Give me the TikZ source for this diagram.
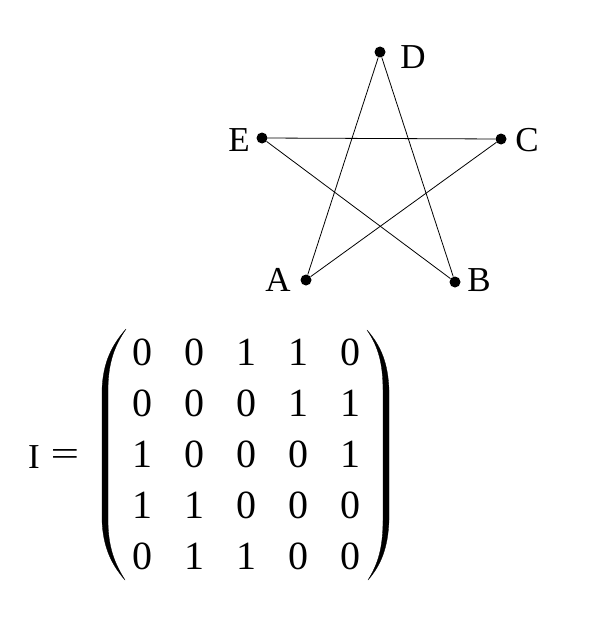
\documentclass[tikz,border=0pt]{standalone}
\usepackage{fontspec}
\usepackage{graphicx}
\setmainfont{Liberation Serif}
\begin{document}
\begin{tikzpicture}[x=1pt,y=-1pt,
  vtx/.style={circle,fill=black,inner sep=0pt,minimum size=11pt},
  lbl/.style={inner sep=0pt,font=\fontsize{35}{40}\selectfont},
  entry/.style={inner sep=0pt,font=\fontsize{40}{46}\selectfont},
  edge/.style={line width=0.8pt},
  paren/.style={fill=black,draw=black,line width=0.3pt}]
\useasboundingbox[fill=white] (0,0) rectangle (598,618);
% vertices
\node[vtx] (D) at (380,52) {};
\node[vtx] (E) at (262,138) {};
\node[vtx] (C) at (501,139) {};
\node[vtx] (A) at (306,280) {};
\node[vtx] (B) at (455,282) {};
% labels
\node[lbl] (lD) at (413,57) {D};
\node[lbl] (lE) at (239,140) {E};
\node[lbl] (lC) at (527,140) {C};
\node[lbl] (lA) at (278,280) {A};
\node[lbl] (lB) at (479,280) {B};
% edges
\draw[edge] (D) -- (A);
\draw[edge] (D) -- (B);
\draw[edge] (E) -- (C);
\draw[edge] (E) -- (B);
\draw[edge] (A) -- (C);
% I =
\node[lbl] (I) at (34,457) {I};
\node[lbl] (eq) at (65,457) {\scalebox{1.45}[1]{=}};
% parentheses
\path[paren] (126,329) .. controls (112,345) and (103,362) .. (102,390)
  -- (102,520) .. controls (103,548) and (112,565) .. (125,580)
  .. controls (115,564) and (108,548) .. (108,520)
  -- (108,390) .. controls (108,362) and (115,345) .. (126,329) -- cycle;
\path[paren] (367,330) .. controls (381,346) and (388,363) .. (389,390)
  -- (389,520) .. controls (388,548) and (381,565) .. (368,580)
  .. controls (378,564) and (383,548) .. (383,520)
  -- (383,390) .. controls (383,363) and (378,346) .. (367,330) -- cycle;
% matrix entries
\foreach \r/\y/\row in {1/352/{0,0,1,1,0},2/403/{0,0,0,1,1},3/454/{1,0,0,0,1},4/505/{1,1,0,0,0},5/556/{0,1,1,0,0}}{
  \foreach \v [count=\c] in \row {
    \pgfmathsetmacro{\xx}{142+(\c-1)*52}
    \node[entry] (m-\r-\c) at (\xx,\y) {\v};
  }
}
\end{tikzpicture}
\end{document}
